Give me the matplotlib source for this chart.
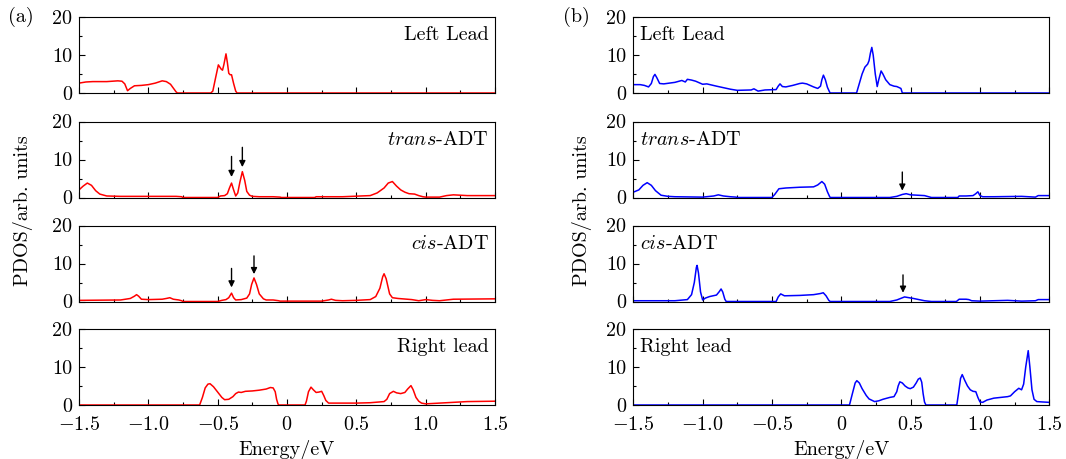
import matplotlib
matplotlib.use("Agg")
import matplotlib.pyplot as plt
from matplotlib.ticker import MultipleLocator, FixedLocator, FixedFormatter

plt.rcParams['font.family'] = 'serif'
plt.rcParams['font.serif'] = ['cmr10']
plt.rcParams['mathtext.fontset'] = 'cm'
plt.rcParams['axes.unicode_minus'] = False
plt.rcParams['axes.formatter.use_mathtext'] = True

# ---------------- data ----------------
panel_titles = ['Left Lead', r'$trans$-ADT', r'$cis$-ADT', 'Right lead']
xtick_vals = [-1.5, -1.0, -0.5, 0, 0.5, 1.0, 1.5]
xtick_labels = [r'$-1.5$', r'$-1.0$', r'$-0.5$', r'$0$', r'$0.5$', r'$1.0$', r'$1.5$']
ytick_vals = [0, 10, 20]
ytick_labels = ['0', '10', '20']

# (a) panels - red
a_left_E = [-1.5,-1.45,-1.4,-1.3,-1.22,-1.19,-1.17,-1.15,-1.13,-1.1,-1.05,-1.0,-0.95,-0.9,-0.87,-0.84,-0.82,-0.8,-0.79,
            -0.55,-0.535,-0.515,-0.495,-0.475,-0.465,-0.455,-0.44,-0.43,-0.42,-0.41,-0.40,-0.385,-0.37,-0.36,1.5]
a_left_D = [2.6,2.9,3.0,3.0,3.2,3.1,2.4,0.6,1.2,1.9,2.0,2.2,2.6,3.2,3.0,2.3,1.3,0.3,0,
            0,0.5,4.0,7.4,6.3,6.0,7.5,10.3,8.0,5.2,4.8,4.8,2.5,0.5,0,0]

a_trans_E = [-1.5,-1.47,-1.44,-1.41,-1.38,-1.35,-1.3,-1.2,-1.0,-0.8,-0.76,-0.75,-0.5,-0.48,-0.45,-0.43,-0.415,-0.40,-0.385,
             -0.37,-0.355,-0.34,-0.322,-0.305,-0.29,-0.27,-0.25,-0.2,-0.1,-0.05,-0.04,0.2,0.21,0.4,0.6,0.65,0.7,0.73,
             0.76,0.79,0.82,0.85,0.88,0.92,0.95,0.98,1.0,1.1,1.15,1.2,1.3,1.5]
a_trans_D = [2.0,3.0,3.8,3.2,1.8,0.9,0.4,0.3,0.3,0.3,0.2,0,0,0.4,0.5,1.0,2.5,3.8,2.0,
             0.4,1.2,4.0,6.8,4.5,1.6,0.6,0.3,0.2,0.2,0.1,0,0,0.2,0.2,0.5,1.2,2.5,3.8,
             4.2,3.0,2.0,1.4,1.0,0.9,0.5,0.2,0.1,0.1,0.5,0.7,0.5,0.5]

a_cis_E = [-1.5,-1.2,-1.13,-1.1,-1.085,-1.07,-1.05,-1.0,-0.9,-0.87,-0.845,-0.82,-0.78,-0.76,-0.75,-0.5,-0.47,-0.44,-0.42,
           -0.40,-0.385,-0.37,-0.33,-0.29,-0.27,-0.255,-0.238,-0.22,-0.2,-0.17,-0.15,-0.1,-0.06,-0.05,0.25,0.3,0.32,
           0.35,0.4,0.5,0.6,0.64,0.67,0.69,0.70,0.715,0.74,0.76,0.8,0.9,0.95,1.0,1.05,1.1,1.2,1.5]
a_cis_D = [0.3,0.4,0.8,1.4,1.8,1.4,0.6,0.5,0.6,0.8,1.0,0.6,0.4,0.2,0,0,0.3,0.5,1.0,
           2.2,1.0,0.4,0.5,0.9,2.0,4.5,6.2,4.5,2.0,0.7,0.4,0.4,0.2,0.1,0.1,0.4,0.6,
           0.3,0.2,0.3,0.5,1.3,3.5,6.5,7.3,6.0,2.0,1.0,0.8,0.5,0.2,0.5,0.3,0.2,0.6,0.7]

a_right_E = [-1.5,-0.63,-0.61,-0.59,-0.57,-0.555,-0.53,-0.5,-0.47,-0.45,-0.42,-0.39,-0.37,-0.35,-0.33,-0.3,-0.25,-0.2,
             -0.15,-0.12,-0.1,-0.085,-0.075,-0.065,-0.06,0.13,0.14,0.155,0.173,0.19,0.21,0.23,0.25,0.265,0.28,0.3,
             0.31,0.5,0.6,0.7,0.72,0.74,0.767,0.79,0.82,0.85,0.87,0.894,0.91,0.93,0.95,0.97,1.0,1.1,1.3,1.5]
a_right_D = [0,0,2.0,4.5,5.5,5.6,4.8,3.4,2.0,1.4,1.5,2.2,3.0,3.4,3.3,3.6,3.7,3.9,
             4.2,4.6,4.5,3.5,1.5,0.3,0,0,1.0,3.5,4.7,4.0,3.3,3.4,3.6,2.5,1.2,0.5,
             0.5,0.5,0.6,0.9,1.5,3.0,3.6,3.2,3.0,3.3,4.2,5.1,4.0,2.0,1.0,0.5,0.3,0.5,0.9,1.0]

# (b) panels - blue
b_left_E = [-1.5,-1.45,-1.42,-1.39,-1.37,-1.355,-1.344,-1.33,-1.31,-1.28,-1.2,-1.15,-1.125,-1.11,-1.08,-1.05,-1.0,-0.97,
            -0.9,-0.8,-0.75,-0.65,-0.63,-0.6,-0.55,-0.47,-0.455,-0.442,-0.425,-0.4,-0.35,-0.3,-0.28,-0.25,-0.2,-0.17,
            -0.15,-0.14,-0.129,-0.115,-0.1,-0.085,-0.08,0.11,0.13,0.15,0.17,0.19,0.2,0.21,0.22,0.23,0.245,0.259,0.27,
            0.287,0.3,0.32,0.35,0.38,0.4,0.43,0.44,1.5]
b_left_D = [2.2,2.2,2.0,1.6,2.5,4.3,4.9,4.0,2.5,2.4,2.8,3.3,2.9,3.6,3.4,3.1,2.3,2.4,
            1.8,1.0,0.7,0.8,1.1,0.5,0.8,0.9,1.8,2.4,1.7,1.6,2.0,2.5,2.6,2.4,1.6,1.2,
            1.8,3.5,4.7,3.5,1.5,0.3,0,0,2.5,5.0,6.8,7.6,8.5,10.5,12.0,10.0,5.0,1.7,3.5,
            5.8,5.0,3.5,2.2,1.8,1.7,1.2,0,0]

b_trans_E = [-1.5,-1.46,-1.43,-1.40,-1.37,-1.34,-1.3,-1.25,-1.2,-1.0,-0.92,-0.887,-0.85,-0.8,-0.76,-0.75,-0.5,-0.48,
             -0.45,-0.4,-0.3,-0.2,-0.17,-0.15,-0.14,-0.12,-0.1,-0.085,-0.08,0.35,0.4,0.44,0.468,0.5,0.55,0.6,0.63,
             0.65,0.84,0.85,0.9,0.95,0.97,0.985,1.0,1.02,1.1,1.3,1.4,1.42,1.5]
b_trans_D = [1.4,2.0,3.2,3.9,3.2,1.8,0.6,0.3,0.2,0.1,0.4,0.7,0.4,0.2,0.1,0,0,0.8,
             2.3,2.5,2.7,2.8,3.3,3.9,4.2,3.5,1.5,0.3,0,0,0.3,0.8,1.0,0.7,0.6,0.5,0.2,
             0,0,0.4,0.4,0.5,1.0,1.5,0.5,0.2,0.2,0.3,0.1,0.5,0.5]

b_cis_E = [-1.5,-1.2,-1.11,-1.08,-1.06,-1.045,-1.04,-1.03,-1.015,-1.0,-0.98,-0.95,-0.9,-0.88,-0.867,-0.855,-0.84,-0.83,
           -0.47,-0.455,-0.437,-0.41,-0.3,-0.2,-0.15,-0.13,-0.11,-0.09,-0.08,0.35,0.4,0.456,0.52,0.6,0.65,0.83,0.85,
           0.9,0.92,0.94,1.0,1.2,1.3,1.4,1.42,1.5]
b_cis_D = [0.2,0.2,0.5,1.8,5.0,9.0,9.5,7.5,2.5,0.4,0.9,1.3,1.7,2.6,3.3,2.5,0.6,0,
           0,1.2,2.0,1.5,1.6,1.8,2.1,2.3,1.5,0.3,0,0,0.4,1.2,0.8,0.2,0,0,0.6,
           0.6,0.5,0.2,0.1,0.3,0.1,0.2,0.5,0.5]

b_right_E = [-1.5,0.059,0.08,0.1,0.112,0.13,0.15,0.18,0.2,0.24,0.27,0.3,0.35,0.38,0.4,0.41,0.422,0.44,0.46,0.48,0.497,
             0.52,0.54,0.555,0.569,0.58,0.59,0.6,0.61,0.833,0.845,0.86,0.872,0.89,0.91,0.93,0.95,0.97,0.985,1.0,1.02,
             1.05,1.1,1.2,1.22,1.25,1.28,1.3,1.315,1.33,1.348,1.36,1.375,1.39,1.41,1.45,1.5]
b_right_D = [0,0,3.0,5.8,6.4,5.8,4.3,2.5,1.6,0.9,1.1,1.5,2.0,2.2,3.5,5.0,6.1,5.8,5.0,4.5,4.3,
             4.7,5.8,6.8,7.1,6.0,3.0,0.8,0,0,3.0,7.0,8.0,6.5,5.0,4.0,3.6,3.5,2.0,0.8,0.7,
             1.3,1.8,2.2,2.4,3.5,4.4,4.0,5.5,10.0,14.3,10.0,4.0,1.5,0.9,0.8,0.7]

# arrows: (panel index, energy, y_start, y_end)
a_arrows = [(1, -0.40, 10.8, 5.4), (1, -0.322, 13.2, 8.0), (2, -0.40, 8.7, 3.7), (2, -0.238, 12.0, 7.2)]
b_arrows = [(1, 0.44, 6.7, 1.8), (2, 0.445, 7.0, 2.3)]

a_series = [(a_left_E, a_left_D), (a_trans_E, a_trans_D), (a_cis_E, a_cis_D), (a_right_E, a_right_D)]
b_series = [(b_left_E, b_left_D), (b_trans_E, b_trans_D), (b_cis_E, b_cis_D), (b_right_E, b_right_D)]

# ---------------- figure ----------------
W, H = 1066, 459
fig = plt.figure(figsize=(W / 100, H / 100), dpi=100)

tops = [17, 121.5, 225.5, 329]
ph = 76
col_left = [79, 633.3]
pw = 416
FS = 14.5

def make_axes(x0, top):
    return fig.add_axes([x0 / W, 1 - (top + ph) / H, pw / W, ph / H])

for col, (series, color, arrows) in enumerate([(a_series, '#ff0000', a_arrows), (b_series, '#0000ff', b_arrows)]):
    for i, (E, D) in enumerate(series):
        ax = make_axes(col_left[col], tops[i])
        ax.plot(E, D, color=color, lw=1.1)
        ax.set_xlim(-1.5, 1.5)
        ax.set_ylim(0, 20)
        ax.xaxis.set_major_locator(FixedLocator(xtick_vals))
        ax.xaxis.set_minor_locator(MultipleLocator(0.25))
        ax.yaxis.set_major_locator(FixedLocator(ytick_vals))
        ax.yaxis.set_major_formatter(FixedFormatter(ytick_labels))
        ax.yaxis.set_minor_locator(MultipleLocator(5))
        ax.tick_params(which='both', direction='in', top=False, right=False, labelsize=FS, width=0.8)
        ax.tick_params(which='major', length=4.5)
        ax.tick_params(which='minor', length=2.5)
        ax.tick_params(axis='x', which='major', pad=8)
        ax.tick_params(axis='y', which='major', pad=5)
        for s in ax.spines.values():
            s.set_linewidth(0.8)
        if i == 3:
            ax.xaxis.set_major_formatter(FixedFormatter(xtick_labels))
            ax.set_xlabel('Energy/eV', fontsize=FS, labelpad=4)
        else:
            ax.set_xticklabels([])
        if col == 0:
            ax.text(0.985, 0.76, panel_titles[i], transform=ax.transAxes, ha='right', va='center', fontsize=FS)
        else:
            ax.text(0.017, 0.76, panel_titles[i], transform=ax.transAxes, ha='left', va='center', fontsize=FS)
        for (pi, ex, y0, y1) in arrows:
            if pi == i:
                ax.annotate('', xy=(ex, y1), xytext=(ex, y0),
                            arrowprops=dict(arrowstyle='-|>', color='black', lw=1.0,
                                            mutation_scale=9, shrinkA=0, shrinkB=0))

fig.text(21 / W, 1 - 17 / H, '(a)', ha='center', va='center', fontsize=FS)
fig.text(576 / W, 1 - 17 / H, '(b)', ha='center', va='center', fontsize=FS)
fig.text(23 / W, 1 - 211 / H, 'PDOS/arb. units', rotation=90, ha='center', va='center', fontsize=FS)
fig.text(582 / W, 1 - 211 / H, 'PDOS/arb. units', rotation=90, ha='center', va='center', fontsize=FS)

fig.savefig('out.png', dpi=100)
